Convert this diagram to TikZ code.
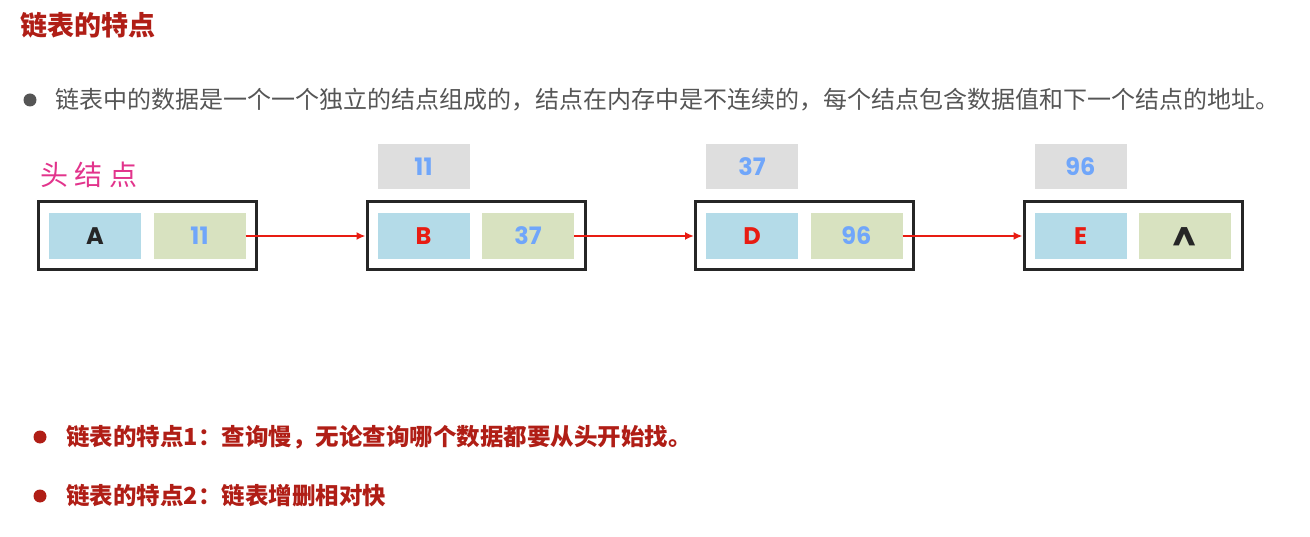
\documentclass[tikz,border=0pt]{standalone}
\usepackage{fontspec}
\setsansfont{Poppins}
\newfontfamily\cjk{Noto Sans CJK SC}
\usetikzlibrary{arrows.meta}

\definecolor{titlered}{RGB}{176,30,22}
\definecolor{bodygray}{RGB}{85,85,85}
\definecolor{headpink}{RGB}{226,52,140}
\definecolor{cellblue}{RGB}{180,219,232}
\definecolor{cellgreen}{RGB}{216,226,192}
\definecolor{cellgray}{RGB}{222,222,222}
\definecolor{numblue}{RGB}{112,166,250}
\definecolor{linkred}{RGB}{232,28,18}

\begin{document}
\begin{tikzpicture}[x=1pt,y=-1pt,
		outerbox/.style={draw=black!85,line width=3pt,minimum width=218pt,minimum height=68pt,inner sep=0pt},
		cellbox/.style={minimum width=92pt,minimum height=46pt,inner sep=0pt,text height=17pt,text depth=0pt,font=\sffamily\bfseries\fontsize{24}{26}\selectfont},
		datacell/.style={cellbox,fill=cellblue},
		nextcell/.style={cellbox,fill=cellgreen,text=numblue},
		addrtag/.style={cellbox,fill=cellgray,minimum height=45pt,text=numblue},
		link/.style={draw=linkred,line width=2.2pt,-{Latex[length=9pt,width=8pt]}},
		redtext/.style={text=titlered,font=\cjk\bfseries\fontsize{23.5}{28}\selectfont,anchor=west,inner sep=0pt}]
	\useasboundingbox (0,0) rectangle (1310,537);

	% title and first bullet
	\node[anchor=west,inner sep=0pt,text=titlered,font=\cjk\bfseries\fontsize{27}{30}\selectfont] (title) at (20,25) {链表的特点};
	\fill[bodygray] (30,100) circle (6.5pt);
	\node[anchor=west,inner sep=0pt,text=bodygray,font=\cjk\fontsize{24}{28}\selectfont] (intro) at (55,100) {链表中的数据是一个一个独立的结点组成的，结点在内存中是不连续的，每个结点包含数据值和下一个结点的地址。};

	% head label
	\node[anchor=west,inner sep=0pt,text=headpink,font=\cjk\fontsize{28}{30}\selectfont\addfontfeature{LetterSpace=24}] (head) at (40,175) {头结点};

	% the four nodes
	\node[outerbox] (A) at (147.5,236) {};
	\node[outerbox] (B) at (476,236) {};
	\node[outerbox] (D) at (804.5,236) {};
	\node[outerbox] (E) at (1133,236) {};

	\node[datacell,text=black!85] (Adata) at (95,236) {A};
	\node[nextcell] (Anext) at (199.5,236) {11};
	\node[datacell,text=linkred] (Bdata) at (423.5,236) {B};
	\node[nextcell] (Bnext) at (528,236) {37};
	\node[datacell,text=linkred] (Ddata) at (752,236) {D};
	\node[nextcell] (Dnext) at (856.5,236) {96};
	\node[datacell,text=linkred] (Edata) at (1080.5,236) {E};
	\node[nextcell,text=black!85,font=\sffamily\bfseries\fontsize{34}{36}\selectfont] (Enext) at (1185,236) {\raisebox{-7pt}{\^{}}};

	% addresses
	\node[addrtag] (Baddr) at (423.5,167) {11};
	\node[addrtag] (Daddr) at (752,167) {37};
	\node[addrtag] (Eaddr) at (1080.5,167) {96};

	% links
	\draw[link] (Anext.east) -- (B.west);
	\draw[link] (Bnext.east) -- (D.west);
	\draw[link] (Dnext.east) -- (E.west);

	% features
	\fill[titlered] (40,437) circle (6.5pt);
	\node[redtext] (feat1) at (66,437) {链表的特点1：查询慢，无论查询哪个数据都要从头开始找。};
	\fill[titlered] (40,496) circle (6.5pt);
	\node[redtext] (feat2) at (66,496) {链表的特点2：链表增删相对快};
\end{tikzpicture}
\end{document}
